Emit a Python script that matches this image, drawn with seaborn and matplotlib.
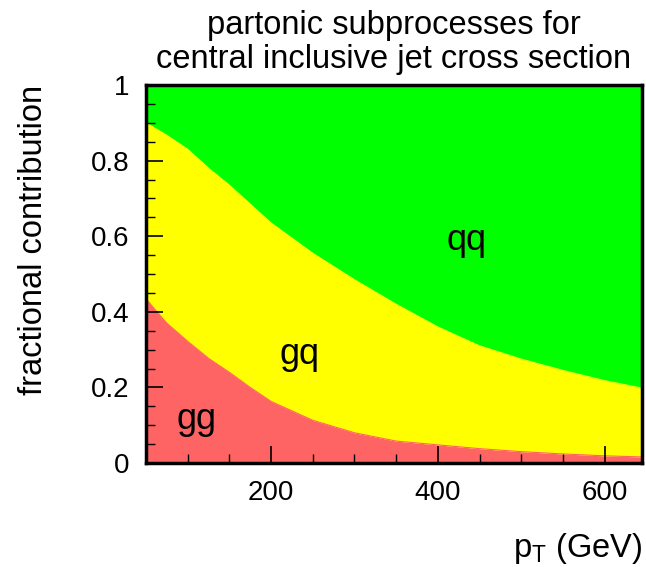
import matplotlib
matplotlib.use("Agg")
import matplotlib.pyplot as plt
import seaborn as sns
import numpy as np
import pandas as pd
from matplotlib.ticker import MultipleLocator

# ---- data ----
pt = [50, 60, 75, 100, 125, 150, 175, 200, 250, 300, 350, 400, 450, 500, 550, 600, 645]
frac_gg = [0.435, 0.408, 0.37, 0.322, 0.277, 0.24, 0.20, 0.163, 0.113, 0.080, 0.058,
           0.048, 0.038, 0.030, 0.024, 0.019, 0.016]
frac_gq = [0.465, 0.479, 0.497, 0.508, 0.503, 0.495, 0.485, 0.472, 0.442, 0.405, 0.362,
           0.312, 0.272, 0.245, 0.221, 0.199, 0.182]
frac_qq = [0.10, 0.113, 0.133, 0.17, 0.22, 0.265, 0.315, 0.365, 0.445, 0.515, 0.58,
           0.64, 0.69, 0.725, 0.755, 0.782, 0.802]
labels = ["gg", "gq", "qq"]
label_pos = [(111, 0.114), (234, 0.286), (434, 0.59)]
colors = ["#FF6464", "#FFFF00", "#00FF00"]

df = pd.DataFrame({"pt": pt, "gg": frac_gg, "gq": frac_gq, "qq": frac_qq})
df["c1"] = df["gg"]
df["c2"] = df["gg"] + df["gq"]
df["c3"] = df["c2"] + df["qq"]

sns.set_theme(style="ticks")
plt.rcParams["font.family"] = ["Liberation Sans", "DejaVu Sans"]
plt.rcParams["text.color"] = "black"
plt.rcParams["axes.labelcolor"] = "black"

fig = plt.figure(figsize=(6.46, 5.67), dpi=100)
ax = fig.add_axes([0.226, 0.1834, 0.768, 0.6666])
ax.set_axisbelow(False)

lower = np.zeros(len(df))
for col, c in zip(["c1", "c2", "c3"], colors):
    ax.fill_between(df["pt"], lower, df[col], color=c, linewidth=0, zorder=1)
    sns.lineplot(data=df, x="pt", y=col, ax=ax, color=c, linewidth=0.8, zorder=1.5)
    lower = df[col].values

for lab, (x, y) in zip(labels, label_pos):
    ax.text(x, y, lab, fontsize=26, ha="center", va="center", color="black", zorder=3)

ax.set_xlim(50, 645)
ax.set_ylim(0, 1)
ax.xaxis.set_major_locator(MultipleLocator(200))
ax.xaxis.set_minor_locator(MultipleLocator(50))
ax.yaxis.set_minor_locator(MultipleLocator(0.05))
ax.set_yticks([0, 0.2, 0.4, 0.6, 0.8, 1.0])
ax.set_yticklabels(["0", "0.2", "0.4", "0.6", "0.8", "1"])
ax.tick_params(which="both", direction="in", top=False, right=False, color="black",
               labelsize=20, labelcolor="black", zorder=4)
ax.tick_params(which="major", length=12, width=1.2, pad=12)
ax.tick_params(which="minor", length=6.5, width=1.0)
for s in ax.spines.values():
    s.set_linewidth(2.5)
    s.set_color("black")
    s.set_zorder(5)

ax.set_xlabel("p$_\\mathregular{T}$ (GeV)", fontsize=23.5, loc="right", labelpad=18,
              color="black")
ax.set_ylabel("fractional contribution", fontsize=23.5, loc="top", labelpad=30,
              color="black")
ax.set_title("partonic subprocesses for\ncentral inclusive jet cross section",
             fontsize=23.5, pad=12, linespacing=1.15, color="black")
ax.set_facecolor("white")

fig.savefig("out.png", dpi=100)
